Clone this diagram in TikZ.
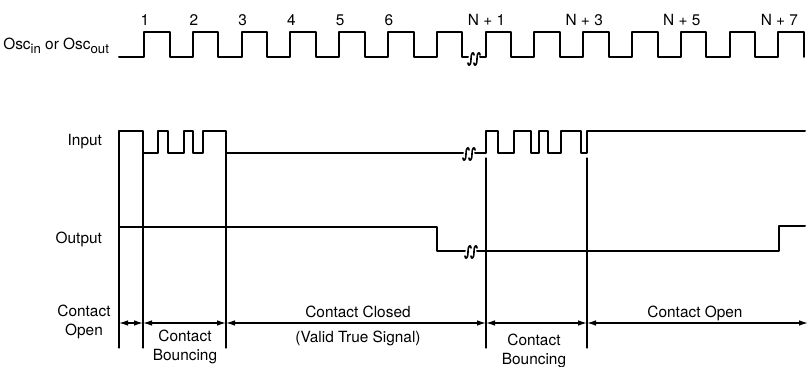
\documentclass[tikz,border=0pt]{standalone}
\usepackage{fontspec}
\setmainfont{TeX Gyre Heros}
\usepackage{tikz}
\usetikzlibrary{arrows.meta}

\newcommand{\oscsub}[1]{\raisebox{-0.45ex}{\fontsize{6.6}{7}\selectfont #1}}

\begin{document}
\begin{tikzpicture}[>={Latex[length=4.5pt,width=2.8pt]}, line cap=round, line join=round,
    x=0.5pt, y=-0.5pt, font=\fontsize{7.7}{9.5}\selectfont,
    wave/.style={line width=1pt},
    guide/.style={line width=0.65pt},
    dim/.style={line width=0.65pt, <->},
    brk/.pic={
      \draw[line width=0.8pt] (-6,4) .. controls (-6,7.5) and (-3,7.5) .. (-3,0)
                              .. controls (-3,-7.5) and (0,-7.5) .. (0,-4);
      \draw[line width=0.8pt] (0,4) .. controls (0,7.5) and (3,7.5) .. (3,0)
                              .. controls (3,-7.5) and (6,-7.5) .. (6,-4);
    }]

  \useasboundingbox (0,0) rectangle (811,367);

  %--------------------------
  % Clock: Osc in / Osc out
  %--------------------------
  \node[anchor=east] (lblOsc) at (116,46) {Osc\oscsub{in} or Osc\oscsub{out}};

  \draw[wave] (119,57) foreach \i in {0,...,6} {
      -- ({144+48.8*\i},57) -- ++(0,-25) -- ++(25.5,0) -- ++(0,25) } -- (468,57);
  \pic at (474,59) {brk};
  \draw[wave] (480,57) foreach \i in {7,...,13} {
      -- ({144+48.8*\i},57) -- ++(0,-25) -- ++(25.5,0) -- ++(0,25) };

  % Cycle numbers
  \foreach \i/\t in {0/1, 1/2, 2/3, 3/4, 4/5, 5/6, 7/N + 1, 9/N + 3, 11/N + 5, 13/N + 7}
    \node (cyc\i) at ({145+48.8*\i},20) {\t};

  %--------------------------
  % Input
  %--------------------------
  \node[anchor=east] (lblIn) at (109,142) {Input};

  \draw[wave] (119,131) -- (143,131) -- (143,153) -- (158,153) -- (158,131)
    -- (168,131) -- (168,153) -- (184,153) -- (184,131) -- (193,131)
    -- (193,153) -- (203,153) -- (203,131) -- (226,131) -- (226,153) -- (463,153);
  \pic at (469,154) {brk};
  \draw[wave] (475,153) -- (486,153) -- (486,131) -- (498,131) -- (498,153)
    -- (514,153) -- (514,131) -- (531,131) -- (531,153) -- (539,153)
    -- (539,131) -- (548,131) -- (548,153) -- (561,153) -- (561,131)
    -- (581,131) -- (581,153) -- (587,153) -- (587,131) -- (805,131);

  %--------------------------
  % Output
  %--------------------------
  \node[anchor=east] (lblOut) at (109,239) {Output};

  \draw[wave] (119,227) -- (437,227) -- (437,251) -- (465,251);
  \pic at (471,252) {brk};
  \draw[wave] (477,251) -- (779,251) -- (779,226) -- (805,226);

  %--------------------------
  % Contact intervals
  %--------------------------
  \foreach \n/\x/\y in {b0/119/131, b1/143/153, b2/226/153, b3/486/158, b4/587/158} {
    \coordinate (\n) at (\x,323);
    \draw[guide] (\x,\y) -- (\x,348);
  }
  \coordinate (b5) at (808,323);

  \draw[dim] (b0) -- (b1);
  \draw[dim] (b1) -- (b2);
  \draw[dim] (b2) -- (b3);
  \draw[dim] (b3) -- (b4);
  \draw[dim] (b4) -- (b5);

  \node[align=center] (open1) at (84,322) {Contact\\Open};
  \node[align=center] (bounce1) at (185,347) {Contact\\Bouncing};
  \node (closed) at (358,312) {Contact Closed};
  \node (valid) at (358,338) {(Valid True Signal)};
  \node[align=center] (bounce2) at (534,351) {Contact\\Bouncing};
  \node (open2) at (695,313) {Contact Open};

\end{tikzpicture}
\end{document}
